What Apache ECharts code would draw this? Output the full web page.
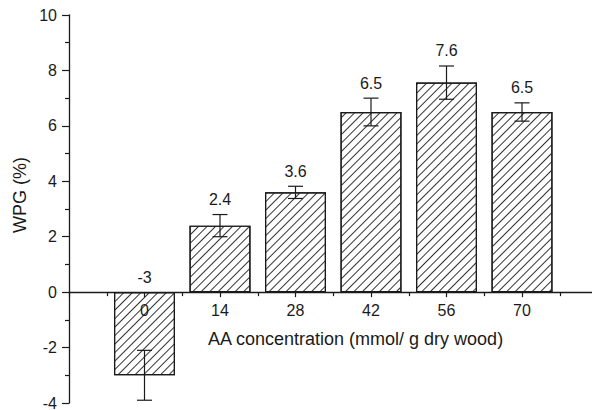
<!DOCTYPE html>
<html>
<head>
<meta charset="utf-8">
<script src="https://cdn.jsdelivr.net/npm/echarts@6/dist/echarts.min.js"></script>
<style>
html,body{margin:0;padding:0;background:#fff;}
#chart{width:592px;height:410px;}
</style>
</head>
<body>
<div id="chart"></div>
<script>
// Data
const concentrations = [0, 14, 28, 42, 56, 70];
const wpgValues = [-3, 2.4, 3.6, 6.5, 7.56, 6.5];
const wpgErrors = [0.9, 0.4, 0.22, 0.5, 0.6, 0.33];
const valueLabels = ['-3', '2.4', '3.6', '6.5', '7.6', '6.5'];
const yTicks = [-4, -2, 0, 2, 4, 6, 8, 10];
const xAxisTitle = 'AA concentration (mmol/ g dry wood)';
const yAxisTitle = 'WPG (%)';

const FONT = 'Liberation Sans, Arial, Helvetica, sans-serif';
const INK = '#1a1a1a';
const GRID = {left: 69, top: 15, bottom: 7, right: -5.5};

const barData = concentrations.map((c, i) => [c, wpgValues[i]]);
const errData = concentrations.map((c, i) => [c, wpgValues[i] - wpgErrors[i], wpgValues[i] + wpgErrors[i], i]);

const chart = echarts.init(document.getElementById('chart'), null, {renderer: 'svg'});
chart.setOption({
  animation: false,
  backgroundColor: '#fff',
  grid: Object.assign({containLabel: false, outerBoundsMode: 'none'}, GRID),
  xAxis: {
    type: 'value', min: -14, max: 84, interval: 14, position: 'bottom', offset: 0,
    z: 10,
    splitLine: {show: false},
    axisLine: {onZero: false, lineStyle: {color: INK, width: 1.3}},
    axisTick: {show: true, inside: false, length: 5, lineStyle: {color: INK, width: 1.2}},
    minorTick: {show: true, splitNumber: 2, length: 4, lineStyle: {color: INK, width: 1.2}},
    axisLabel: {
      margin: 10, color: INK, fontFamily: FONT, fontSize: 16,
      formatter: v => concentrations.indexOf(v) >= 0 ? String(v) : ''
    }
  },
  yAxis: {
    type: 'value', min: yTicks[0], max: yTicks[yTicks.length - 1], interval: 2,
    splitLine: {show: false},
    axisLine: {show: true, onZero: false, lineStyle: {color: INK, width: 1.3}},
    axisTick: {show: true, inside: false, length: 7, lineStyle: {color: INK, width: 1.2}},
    minorTick: {show: true, splitNumber: 2, length: 4, lineStyle: {color: INK, width: 1.2}},
    axisLabel: {margin: 12, color: INK, fontFamily: FONT, fontSize: 16}
  },
  series: [
    {
      type: 'bar',
      data: barData,
      barWidth: 61,
      itemStyle: {
        color: '#fff',
        borderColor: INK,
        borderWidth: 1.2,
        decal: {
          symbol: 'rect',
          symbolSize: 1,
          color: '#333',
          dashArrayX: [1, 0],
          dashArrayY: [1, 5],
          rotation: -Math.PI / 4
        }
      },
      z: 2
    },
    {
      type: 'custom',
      data: errData,
      z: 3,
      renderItem: function (params, api) {
        const x = api.value(0), lo = api.value(1), hi = api.value(2), idx = api.value(3);
        const pTop = api.coord([x, hi]);
        const pBot = api.coord([x, lo]);
        const pLab = api.coord([x, Math.max(0, hi)]);
        const hw = 7.5;
        const ls = {stroke: INK, lineWidth: 1.2};
        return {
          type: 'group',
          children: [
            {type: 'line', shape: {x1: pTop[0], y1: pTop[1], x2: pBot[0], y2: pBot[1]}, style: ls},
            {type: 'line', shape: {x1: pTop[0] - hw, y1: pTop[1], x2: pTop[0] + hw, y2: pTop[1]}, style: ls},
            {type: 'line', shape: {x1: pBot[0] - hw, y1: pBot[1], x2: pBot[0] + hw, y2: pBot[1]}, style: ls},
            {type: 'text', style: {
              x: pLab[0], y: pLab[1] - 7, text: valueLabels[idx],
              textAlign: 'center', textVerticalAlign: 'bottom',
              fill: INK, font: '16px ' + FONT
            }}
          ]
        };
      }
    }
  ],
  graphic: [
    {type: 'text', left: 208, top: 330, style: {text: xAxisTitle, fill: INK, font: '18px ' + FONT}},
    {type: 'text', x: 20, y: 195, rotation: Math.PI / 2,
      style: {text: yAxisTitle, fill: INK, font: '18px ' + FONT, textAlign: 'center', textVerticalAlign: 'middle'}}
  ]
});
// Move the x axis (line, ticks, labels) up to y = 0, as in the reference
const zeroY = chart.convertToPixel({yAxisIndex: 0}, 0);
const bottomY = chart.convertToPixel({yAxisIndex: 0}, yTicks[0]);
chart.setOption({xAxis: {offset: zeroY - bottomY}});
</script>
</body>
</html>
